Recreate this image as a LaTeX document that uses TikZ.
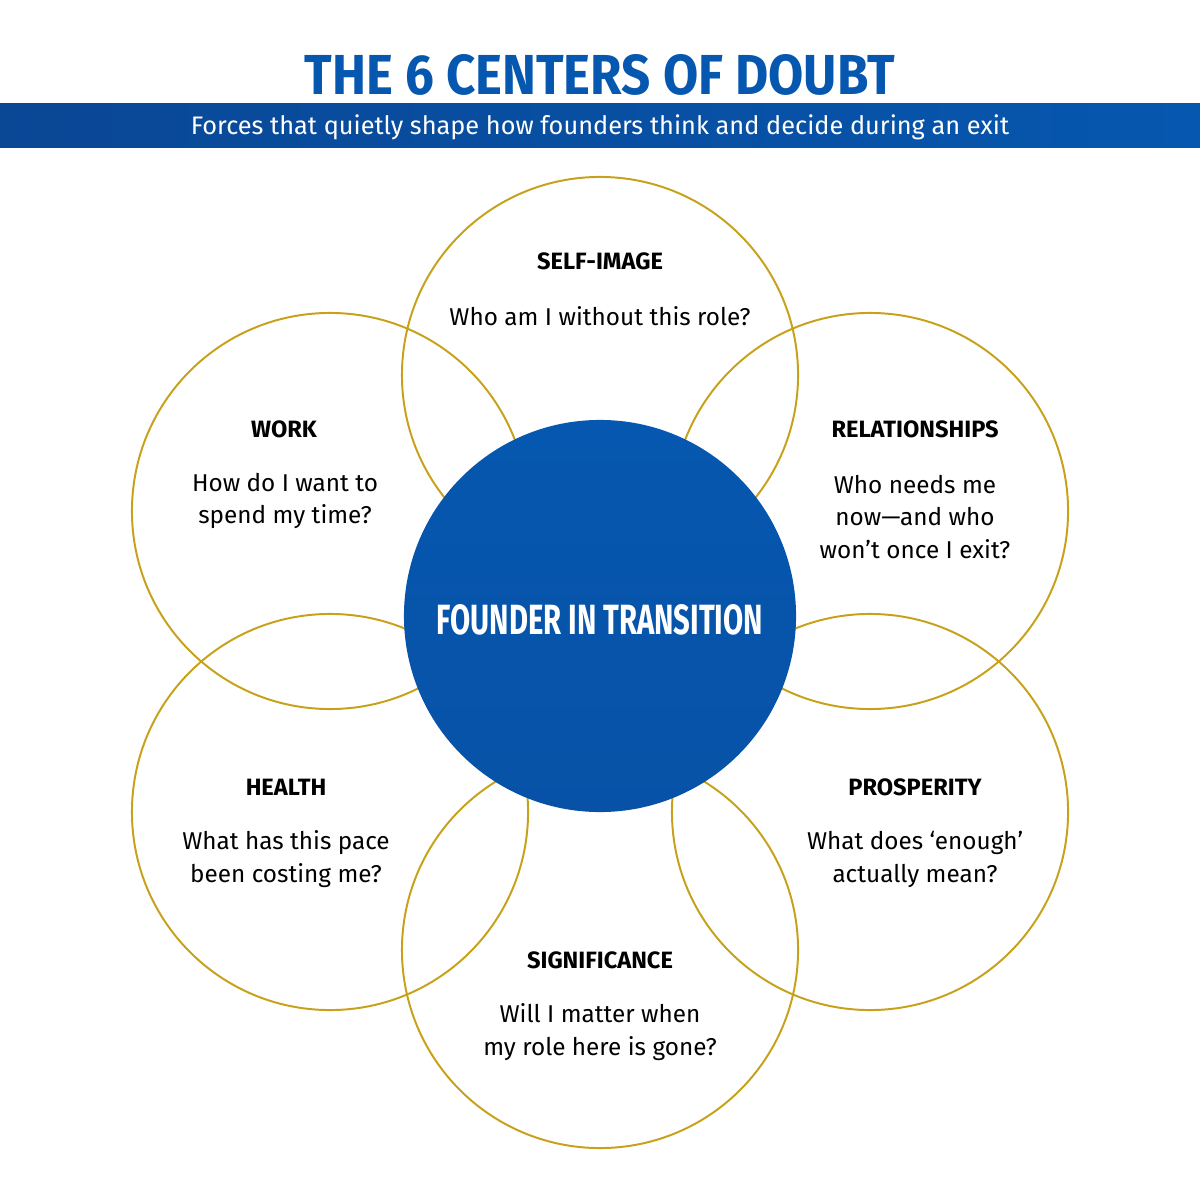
\documentclass[tikz,border=0pt]{standalone}
\usepackage{fontspec}
\setmainfont{Fira Sans}
\usepackage{xcolor}
\definecolor{Royal}{HTML}{0657AF}
\definecolor{Ink}{HTML}{0A4795}
\definecolor{Ochre}{HTML}{C8A11A}
\colorlet{Band}{Ink}
\usepackage{graphicx}
\usepackage{tikz}
\usetikzlibrary{positioning}

\begin{document}
\begin{tikzpicture}[x=0.025cm,y=-0.025cm,every node/.style={align=center,inner sep=0pt},
  ring/.style={circle,draw=Ochre,line width=1.4pt,minimum size=9.9cm},
  head/.style={font=\bfseries\fontsize{16.8}{19}\selectfont},
  ask/.style={font=\fontsize{17.3}{23.4}\selectfont}]
\useasboundingbox (0,0) rectangle (1200,1200);
\node (title) at (600,75) {\color{Royal}\resizebox{14.75cm}{1cm}{\bfseries THE 6 CENTERS OF DOUBT}};
\shade[left color=Band,right color=Royal] (0,104) rectangle (1200,148);
\node (sub) at (600,127) {\color{white}\resizebox{20.45cm}{!}{Forces that quietly shape how founders think and decide during an exit}};
\node[ring] (self) at (600,375) {};
\node[ring] (work) at (330,511) {};
\node[ring] (rel) at (870,511) {};
\node[ring] (health) at (330,812) {};
\node[ring] (pros) at (870,812) {};
\node[ring] (sig) at (600,950) {};
\node[circle,minimum size=9.8cm,top color=Royal,bottom color=Royal!70!Ink] (core) at (600,616) {};
\node (corel) at (600,620) {\color{white}\resizebox{8.15cm}{0.75cm}{\bfseries FOUNDER IN TRANSITION}};
\node[head] (selfh) at (600,261) {SELF-IMAGE};
\node[ask] (selfq) at (600,316) {Who am I without this role?};
\node[head] (workh) at (284,429) {WORK};
\node[ask] (workq) at (285,501) {How do I want to\\spend my time?};
\node[head] (relh) at (915,429) {RELATIONSHIPS};
\node[ask] (relq) at (915,517) {Who needs me\\now—and who\\won’t once I exit?};
\node[head] (healthh) at (286,787) {HEALTH};
\node[ask] (healthq) at (286,859) {What has this pace\\been costing me?};
\node[head] (prosh) at (915,787) {PROSPERITY};
\node[ask] (prosq) at (915,859) {What does ‘enough’\\actually mean?};
\node[head] (sigh) at (600,960) {SIGNIFICANCE};
\node[ask] (sigq) at (600,1032) {Will I matter when\\my role here is gone?};
\end{tikzpicture}
\end{document}
